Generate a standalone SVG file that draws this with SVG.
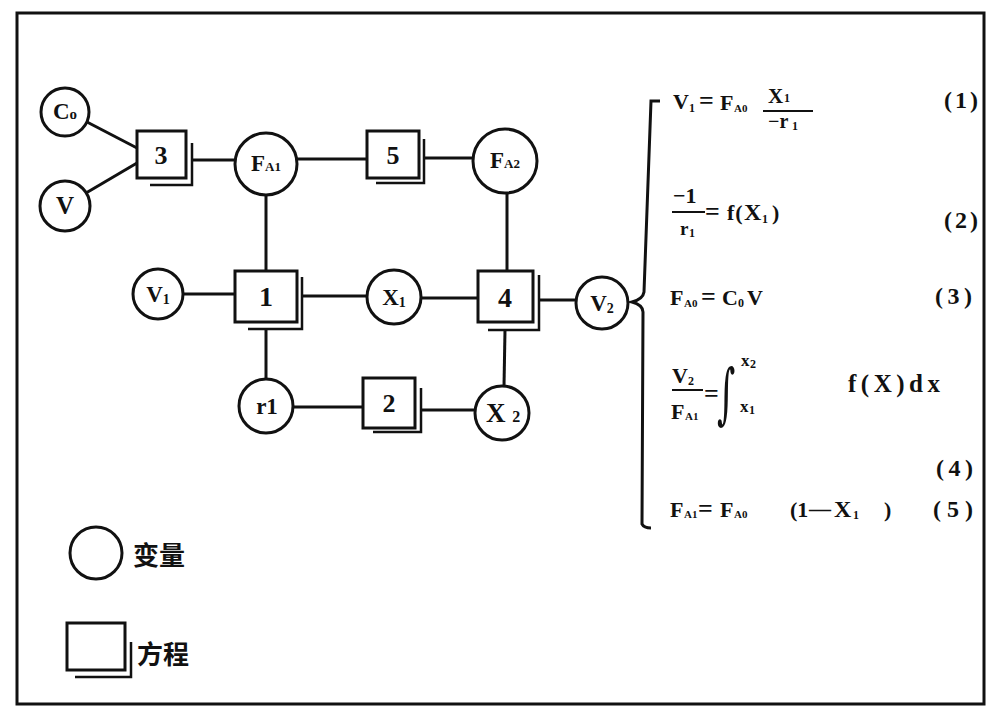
<svg xmlns="http://www.w3.org/2000/svg" width="992" height="720" viewBox="0 0 992 720">
<style>
.c{fill:#fff;stroke:#111;stroke-width:3}
.b{fill:#fff;stroke:#111;stroke-width:3}
.sh{fill:none;stroke:#111;stroke-width:2.5}
.ln{stroke:#111;stroke-width:3;fill:none}
.t{font-family:"Liberation Serif","DejaVu Serif",serif;font-weight:bold;fill:#111}
.e{font-family:"Liberation Serif","DejaVu Serif",serif;font-weight:bold;fill:#111}
.cj{font-family:"Noto Sans CJK SC","Noto Sans CJK JP",sans-serif;font-weight:bold;fill:#111;font-size:26px}
.bar{stroke:#111;stroke-width:2}
</style>
<rect x="0" y="0" width="992" height="720" fill="#fff"/>
<rect x="17" y="13" width="967" height="691" fill="none" stroke="#111" stroke-width="3"/>

<g id="connectors" class="ln">
<line x1="87" y1="122" x2="137" y2="148"/>
<line x1="86" y1="193" x2="137" y2="163"/>
<line x1="192" y1="160" x2="235" y2="160"/>
<line x1="297" y1="159" x2="367" y2="159"/>
<line x1="424" y1="158" x2="473" y2="158"/>
<line x1="266" y1="195" x2="266" y2="271"/>
<line x1="507" y1="193" x2="507" y2="271"/>
<line x1="183" y1="294" x2="235" y2="294"/>
<line x1="302" y1="296" x2="367" y2="296"/>
<line x1="421" y1="298" x2="478" y2="298"/>
<line x1="539" y1="300" x2="576" y2="300"/>
<line x1="266" y1="329" x2="266" y2="379"/>
<line x1="293" y1="407" x2="363" y2="407"/>
<line x1="421" y1="410" x2="475" y2="410"/>
<line x1="505" y1="330" x2="504" y2="386"/>
</g>

<g id="n-Co"><circle class="c" cx="65" cy="112" r="24"/><text class="t" x="65" y="119" font-size="23" text-anchor="middle">C<tspan font-size="15">o</tspan></text></g>
<g id="n-V"><circle class="c" cx="65" cy="206" r="25"/><text class="t" x="65" y="214" font-size="25" text-anchor="middle">V</text></g>
<g id="n-FA1"><circle class="c" cx="266" cy="164" r="31"/><text class="t" x="266" y="171" font-size="23" text-anchor="middle">F<tspan font-size="13">A1</tspan></text></g>
<g id="n-FA2"><circle class="c" cx="505" cy="161" r="32"/><text class="t" x="505" y="168" font-size="23" text-anchor="middle">F<tspan font-size="13">A2</tspan></text></g>
<g id="n-V1"><circle class="c" cx="158" cy="294" r="25"/><text class="t" x="158" y="302" font-size="23" text-anchor="middle">V<tspan font-size="14" dy="2">1</tspan></text></g>
<g id="n-X1"><circle class="c" cx="394" cy="297" r="27"/><text class="t" x="394" y="305" font-size="23" text-anchor="middle">X<tspan font-size="14" dy="2">1</tspan></text></g>
<g id="n-V2"><circle class="c" cx="602" cy="303" r="26"/><text class="t" x="602" y="311" font-size="23" text-anchor="middle">V<tspan font-size="14" dy="2">2</tspan></text></g>
<g id="n-r1"><circle class="c" cx="266" cy="406" r="27"/><text class="t" x="267" y="414" font-size="23" text-anchor="middle">r1</text></g>
<g id="n-X2"><circle class="c" cx="502" cy="413" r="27"/><text class="t" x="503" y="422" font-size="27" text-anchor="middle">X <tspan font-size="16">2</tspan></text></g>

<g id="e-3"><rect class="b" x="137" y="131" width="49" height="47"/><polyline class="sh" points="192,143 192,185 150,185"/><text class="t" x="161" y="164" font-size="26" text-anchor="middle">3</text></g>
<g id="e-5"><rect class="b" x="367" y="131" width="52" height="47"/><polyline class="sh" points="424,139 424,183 376,183"/><text class="t" x="393" y="164" font-size="26" text-anchor="middle">5</text></g>
<g id="e-1"><rect class="b" x="235" y="271" width="62" height="51"/><polyline class="sh" points="302,277 302,329 248,329"/><text class="t" x="266" y="306" font-size="28" text-anchor="middle">1</text></g>
<g id="e-4"><rect class="b" x="478" y="271" width="55" height="51"/><polyline class="sh" points="539,275 539,330 488,330"/><text class="t" x="505" y="307" font-size="28" text-anchor="middle">4</text></g>
<g id="e-2"><rect class="b" x="363" y="378" width="52" height="50"/><polyline class="sh" points="421,388 421,432 373,432"/><text class="t" x="389" y="412" font-size="26" text-anchor="middle">2</text></g>

<g id="brace">
<path class="ln" d="M660 101 L651 101 L644 292 Q643 299 632 302 Q643 305 643 312 L642 524 Q644 528 651 528" stroke-width="3.5"/>
</g>

<g id="equations" font-size="22">
<text class="e" x="673" y="109">V</text><text class="e" x="689" y="112" font-size="12">1</text>
<text class="e" x="699" y="109" font-size="26">=</text>
<text class="e" x="720" y="110">F</text><text class="e" x="734" y="112" font-size="11">A0</text>
<text class="e" x="768" y="103" font-size="21">X</text><text class="e" x="784" y="102" font-size="12">1</text>
<line class="bar" x1="763" y1="111" x2="813" y2="111"/>
<text class="e" x="768" y="128" font-size="20">−r</text><text class="e" x="792" y="130" font-size="12">1</text>
<text class="e" x="944" y="108" font-size="24" textLength="34">(1)</text>

<text class="e" x="673" y="203">−1</text>
<line class="bar" x1="672" y1="212" x2="705" y2="212"/>
<text class="e" x="680" y="235" font-size="19">r</text><text class="e" x="689" y="237" font-size="12">1</text>
<text class="e" x="705" y="220" font-size="26">=</text>
<text class="e" x="727" y="220" letter-spacing="1">f(</text>
<text class="e" x="744" y="220" font-size="24">X</text><text class="e" x="762" y="223" font-size="12">1</text>
<text class="e" x="772" y="220">)</text>
<text class="e" x="944" y="228" font-size="24" textLength="34">(2)</text>

<text class="e" x="670" y="305">F</text><text class="e" x="684" y="307" font-size="11">A0</text>
<text class="e" x="701" y="305" font-size="26">=</text>
<text class="e" x="722" y="305">C</text><text class="e" x="738" y="307" font-size="12">0</text>
<text class="e" x="747" y="305">V</text>
<text class="e" x="935" y="304" font-size="24" textLength="37">(3)</text>

<text class="e" x="672" y="383">V</text><text class="e" x="688" y="385" font-size="12">2</text>
<line class="bar" x1="672" y1="390" x2="703" y2="390"/>
<text class="e" x="671" y="419">F</text><text class="e" x="685" y="420" font-size="11">A1</text>
<text class="e" x="704" y="402" font-size="26">=</text>
<text transform="translate(717,416) scale(0.8,1.5)" font-family="DejaVu Serif, serif" font-size="44" fill="#111">∫</text>
<text class="e" x="741" y="366" font-size="17">x</text><text class="e" x="750" y="368" font-size="12">2</text>
<text class="e" x="740" y="412" font-size="17">x</text><text class="e" x="749" y="414" font-size="12">1</text>
<text class="e" x="848" y="392" font-size="25" textLength="92">f(X)dx</text>
<text class="e" x="936" y="476" font-size="24" textLength="37">(4)</text>

<text class="e" x="670" y="517">F</text><text class="e" x="684" y="518" font-size="11">A1</text>
<text class="e" x="698" y="517" font-size="26">=</text>
<text class="e" x="720" y="517">F</text><text class="e" x="734" y="518" font-size="11">A0</text>
<text class="e" x="790" y="517">(1</text>
<text class="e" x="809" y="516" font-size="22">—</text>
<text class="e" x="834" y="517" font-size="24">X</text><text class="e" x="853" y="519" font-size="12">1</text>
<text class="e" x="884" y="517">)</text>
<text class="e" x="933" y="517" font-size="24" textLength="40">(5)</text>
</g>

<g id="legend">
<circle class="c" cx="96" cy="553" r="26"/>
<text class="cj" x="133" y="565">变量</text>
<rect class="b" x="67" y="623" width="58" height="47"/>
<polyline class="sh" points="131,642 131,677 75,677"/>
<text class="cj" x="137" y="664">方程</text>
</g>
</svg>
